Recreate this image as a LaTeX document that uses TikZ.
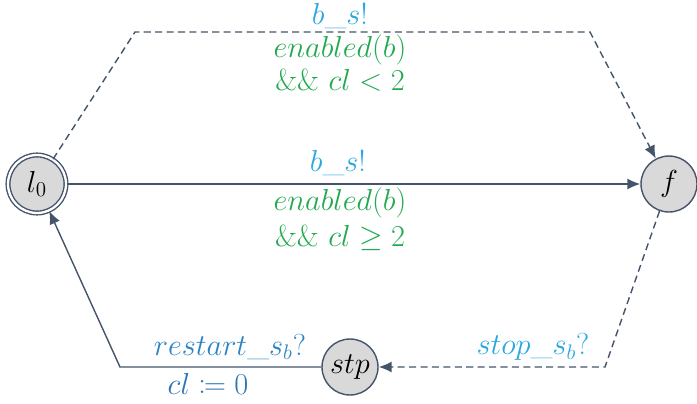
\documentclass[tikz,border=0pt]{standalone}
\usepackage{amsmath, amssymb, mathtools}
\usetikzlibrary{arrows.meta}
\definecolor{edgegray}{RGB}{68,84,106}
\definecolor{syncblue}{RGB}{41,168,224}
\definecolor{guardgreen}{RGB}{34,169,79}
\definecolor{updblue}{RGB}{46,117,182}
\tikzstyle{location} = [circle, minimum size=1.12cm, inner sep=0pt, draw=edgegray, thick, fill=gray!30, font=\fontsize{18}{21}\selectfont]
\tikzstyle{initloc} = [location, minimum size=1.16cm, double, double distance=1.3pt]
\tikzstyle{trans} = [thick, draw=edgegray, -{Latex[length=2.6mm,width=2.2mm]}]
\tikzstyle{urgent} = [trans, dash pattern=on 4pt off 2.5pt]
\tikzstyle{sync} = [inner sep=0pt, text=syncblue, font=\fontsize{18}{21}\selectfont]
\tikzstyle{guard} = [inner sep=0pt, text=guardgreen, font=\fontsize{18}{21}\selectfont]
\tikzstyle{upd} = [inner sep=0pt, text=updblue, font=\fontsize{18}{21}\selectfont]

\begin{document}
\begin{tikzpicture}[x=0.02cm, y=-0.02cm]
  \useasboundingbox (0,0) rectangle (697,403);
  \node (l0)[initloc] at (37,184) {$l_0$};
  \node (f)[location] at (669,184) {$f$};
  \node (stp)[location] at (350,367) {$stp$};
  \coordinate (c1) at (135,32);
  \coordinate (c2) at (590,32);
  \coordinate (c3) at (605,367);
  \coordinate (c4) at (120,367);
  \draw [urgent] (l0) -- (c1) -- (c2) -- (f);
  \draw [trans] (l0) -- (f);
  \draw [urgent] (f) -- (c3) -- (stp);
  \draw [trans] (stp) -- (c4) -- (l0);
  % labels
  \node (sync1)[sync] at (340,16) {$b\_s!$};
  \node (guard1a)[guard] at (340,50) {$enabled(b)$};
  \node (guard1b)[guard] at (340,80) {$\&\&\ cl < 2$};
  \node (sync2)[sync] at (338,163) {$b\_s!$};
  \node (guard2a)[guard] at (340,203) {$enabled(b)$};
  \node (guard2b)[guard] at (340,238) {$\&\&\ cl \geq 2$};
  \node (sync3)[sync] at (533,347) {$stop\_s_b?$};
  \node (sync4)[sync, text=updblue!70!syncblue] at (230,347) {$restart\_s_b?$};
  \node (upd4)[upd] at (208,384) {$cl \coloneqq 0$};
\end{tikzpicture}
\end{document}
